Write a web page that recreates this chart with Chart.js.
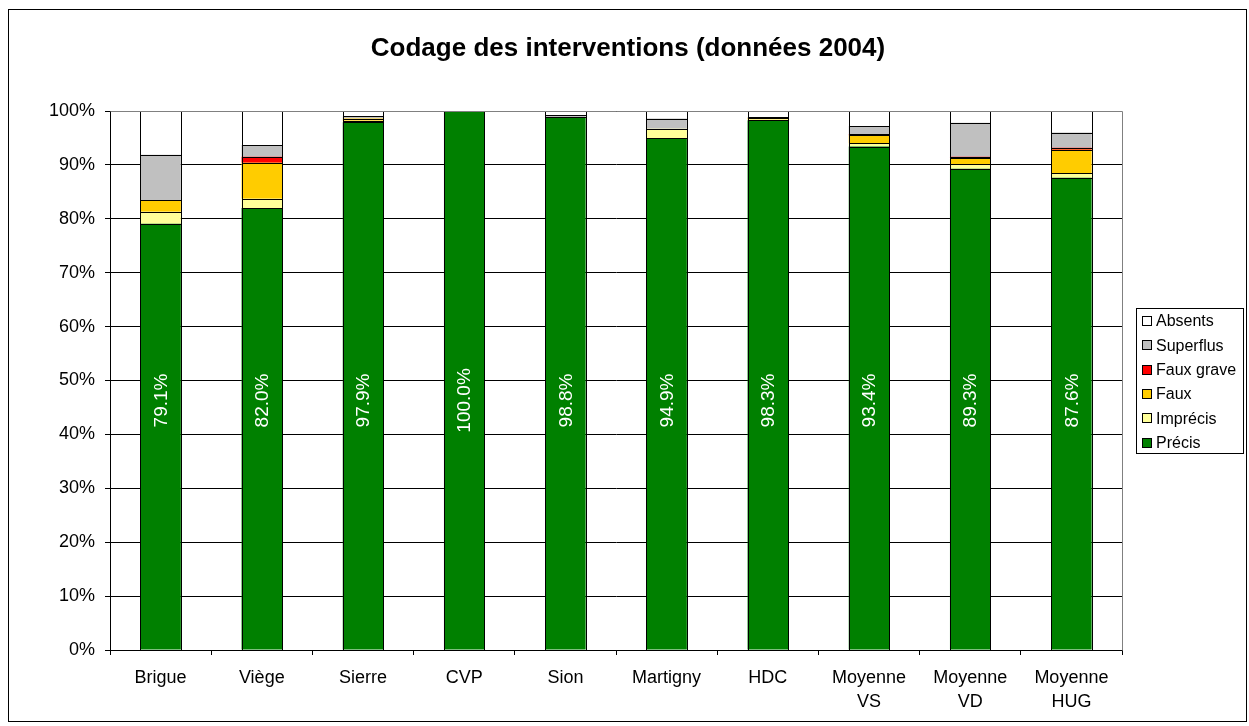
<!DOCTYPE html>
<html>
<head>
<meta charset="utf-8">
<script src="https://cdn.jsdelivr.net/npm/chart.js@4"></script>
<style>
html,body{margin:0;padding:0;background:#fff;}
#wrap{position:relative;width:1249px;height:726px;}
</style>
</head>
<body>
<div id="wrap"><canvas id="c" width="1249" height="726"></canvas></div>
<script>
const TITLE = 'Codage des interventions (données 2004)';
const categories = ['Brigue', 'Viège', 'Sierre', 'CVP', 'Sion', 'Martigny', 'HDC', ['Moyenne', 'VS'], ['Moyenne', 'VD'], ['Moyenne', 'HUG']];
const precis     = [79.1, 82.0, 97.9, 100.0, 98.8, 94.9, 98.3, 93.4, 89.3, 87.6];
const imprecis   = [2.2, 1.7, 0.3, 0, 0.1, 1.8, 0.1, 0.6, 0.8, 0.9];
const faux       = [2.1, 6.7, 0.4, 0, 0, 0, 0.3, 1.5, 1.1, 4.3];
const fauxGrave  = [0, 1.1, 0, 0, 0, 0, 0, 0.2, 0.3, 0.4];
const superflus  = [8.5, 2.2, 0.4, 0, 0.3, 1.9, 0.2, 1.5, 6.3, 2.8];
const absents    = [8.1, 6.3, 1.0, 0, 0.8, 1.4, 1.1, 2.8, 2.2, 4.0];
const yTicks = [0, 10, 20, 30, 40, 50, 60, 70, 80, 90, 100];

const FONT = '"Liberation Sans", Arial, sans-serif';

const series = [
  {label: 'Précis', data: precis, color: '#008000'},
  {label: 'Imprécis', data: imprecis, color: '#FFFF99'},
  {label: 'Faux', data: faux, color: '#FFCC00'},
  {label: 'Faux grave', data: fauxGrave, color: '#FF0000'},
  {label: 'Superflus', data: superflus, color: '#C0C0C0'},
  {label: 'Absents', data: absents, color: '#FFFFFF'}
];

const framePlugin = {
  id: 'frame',
  beforeDraw(chart) {
    const ctx = chart.ctx;
    ctx.save();
    ctx.fillStyle = '#fff';
    ctx.fillRect(0, 0, chart.width, chart.height);
    ctx.strokeStyle = '#000';
    ctx.lineWidth = 1;
    ctx.strokeRect(8.5, 9.5, 1238, 712);
    ctx.fillStyle = '#000';
    ctx.font = 'bold 26px ' + FONT;
    ctx.textAlign = 'center';
    ctx.textBaseline = 'middle';
    ctx.fillText(TITLE, 628, 49);
    ctx.restore();
  },
  afterDatasetsDraw(chart) {
    const ctx = chart.ctx;
    const ca = chart.chartArea;
    const y = chart.scales.y;
    ctx.save();
    // crisp bar outlines
    ctx.strokeStyle = '#000';
    ctx.lineWidth = 1;
    chart.data.datasets.forEach((ds, di) => {
      const meta = chart.getDatasetMeta(di);
      meta.data.forEach((bar, i) => {
        if (!ds.data[i]) return;
        const l = Math.round(bar.x - bar.width / 2) + 0.5;
        const r = Math.round(bar.x + bar.width / 2) + 0.5;
        const t = Math.round(bar.y) + 0.5;
        const b = Math.round(bar.base) + 0.5;
        ctx.strokeRect(l, t, r - l, b - t);
      });
    });
    // plot area border (top & right), grey
    ctx.strokeStyle = '#808080';
    ctx.beginPath();
    ctx.moveTo(Math.round(ca.left) + 0.5, Math.round(ca.top) + 0.5);
    ctx.lineTo(Math.round(ca.right) + 0.5, Math.round(ca.top) + 0.5);
    ctx.lineTo(Math.round(ca.right) + 0.5, Math.round(ca.bottom) + 0.5);
    ctx.stroke();
    // data labels on Précis
    const meta0 = chart.getDatasetMeta(0);
    ctx.fillStyle = '#fff';
    ctx.font = '19px ' + FONT;
    ctx.textAlign = 'center';
    ctx.textBaseline = 'middle';
    const ly = y.getPixelForValue(46.3);
    meta0.data.forEach((bar, i) => {
      ctx.save();
      ctx.translate(bar.x + 1, ly);
      ctx.rotate(-Math.PI / 2);
      ctx.fillText(precis[i].toFixed(1) + '%', 0, 0);
      ctx.restore();
    });
    // legend
    ctx.strokeStyle = '#000';
    ctx.strokeRect(1136.5, 308.5, 107, 145);
    ctx.font = '16px ' + FONT;
    ctx.textAlign = 'left';
    const items = chart.data.datasets.slice().reverse();
    items.forEach((ds, i) => {
      const cy = 321 + 24.3 * i;
      ctx.fillStyle = ds.backgroundColor;
      ctx.fillRect(1142, Math.round(cy - 5), 10, 10);
      ctx.strokeStyle = '#000';
      ctx.strokeRect(1142.5, Math.round(cy - 5) + 0.5, 9, 9);
      ctx.fillStyle = '#000';
      ctx.fillText(ds.label, 1156, cy + 1);
    });
    ctx.restore();
  }
};

new Chart(document.getElementById('c'), {
  type: 'bar',
  data: {
    labels: categories,
    datasets: series.map(s => ({
      label: s.label,
      data: s.data,
      backgroundColor: s.color,
      borderWidth: 0,
      categoryPercentage: 1.0,
      barPercentage: 0.4
    }))
  },
  options: {
    responsive: false,
    animation: false,
    devicePixelRatio: 1,
    layout: {padding: {top: 111, right: 127, bottom: 0, left: 0}},
    plugins: {legend: {display: false}, title: {display: false}, tooltip: {enabled: false}},
    scales: {
      x: {
        stacked: true,
        afterFit(scale) { scale.height = 76; },
        grid: {drawOnChartArea: false, drawTicks: true, tickLength: 5, color: '#000', offset: true},
        border: {color: '#000', width: 1},
        ticks: {color: '#000', font: {family: FONT, size: 18, lineHeight: 1.28}, padding: 12, maxRotation: 0, autoSkip: false}
      },
      y: {
        stacked: true,
        min: 0,
        max: 100,
        afterFit(scale) { scale.width = 110; },
        afterBuildTicks(scale) { scale.ticks = yTicks.map(v => ({value: v})); },
        grid: {color: '#000', tickLength: 5, drawTicks: true},
        border: {color: '#000', width: 1},
        ticks: {color: '#000', font: {family: FONT, size: 18}, padding: 10, callback: v => v + '%'}
      }
    }
  },
  plugins: [framePlugin]
});
</script>
</body>
</html>
